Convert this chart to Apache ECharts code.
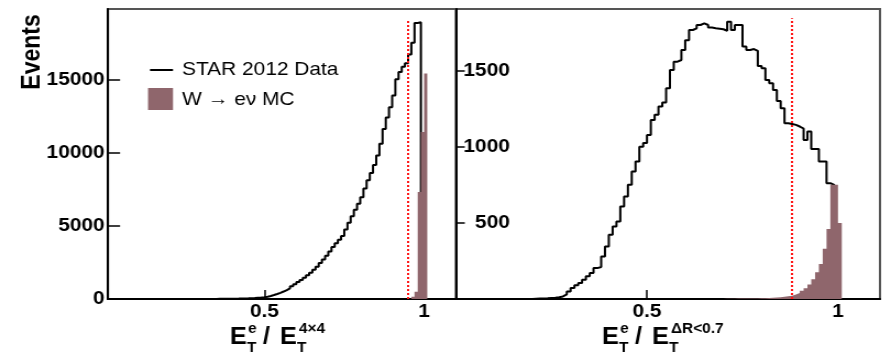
<!DOCTYPE html>
<html>
<head>
<meta charset="utf-8">
<script src="https://cdn.jsdelivr.net/npm/echarts@6/dist/echarts.min.js"></script>
<style>
  html, body { margin: 0; padding: 0; background: #fff; overflow: hidden; }
  /* the reference is stretched horizontally by ~10%, so we draw narrower and stretch */
  #main { width: 809px; height: 357px; transform: scaleX(1.1); transform-origin: 0 0; }
</style>
</head>
<body>
<div id="main"></div>
<script>
const binWidth = 0.01;

// left panel: E_T^e / E_T^{4x4}
const leftDataStart = 0.30;
const leftData = [
  3, 4, 5, 6, 8, 10, 12, 14, 17, 20,
  24, 28, 33, 40, 48, 58, 70, 85, 100, 125,
  160, 210, 270, 340, 420, 510, 610, 730, 870, 1010,
  1160, 1300, 1450, 1620, 1800, 2000, 2200, 2450, 2700, 2950,
  3250, 3550, 3800, 4050, 4300, 4750, 5200, 5650, 6100, 6500,
  6950, 7550, 8100, 8600, 9150, 9800, 10600, 11600, 12400, 13100,
  13900, 15000, 15500, 15850, 16100, 16700, 17500, 18850, 18900
];
const leftMcStart = 0.96;
const leftMc = [150, 500, 7300, 11400, 15400];
const leftCut = 0.95;
const leftCutTop = 19100;

// right panel: E_T^e / E_T^{dR<0.7}
const rightDataStart = 0.20;
const rightData = [
  2, 3, 4, 5, 7, 9, 12, 17, 30, 50,
  72, 90, 105, 127, 150, 171, 203, 210, 280, 345,
  422, 476, 509, 608, 673, 750, 837, 903, 1000, 1024,
  1078, 1176, 1210, 1264, 1290, 1384, 1505, 1559, 1570, 1636,
  1700, 1767, 1778, 1800, 1811, 1800, 1783, 1778, 1775, 1772,
  1762, 1821, 1767, 1800, 1800, 1658, 1636, 1642, 1630, 1531,
  1516, 1439, 1417, 1373, 1300, 1253, 1155, 1150, 1144, 1133,
  1120, 1045, 1100, 985, 985, 903, 903, 761, 750
];
const rightMcStart = 0.70;
const rightMc = [
  2, 2, 2, 3, 3, 3, 4, 4, 4, 5,
  5, 6, 8, 10, 12, 15, 18, 22, 30, 40,
  55, 70, 95, 130, 175, 230, 330, 460, 750, 750,
  500
];
const rightCut = 0.88;
const rightCutTop = 1844;

const xTicks = [0.5, 1];
const leftYTicks = [0, 5000, 10000, 15000];
const rightYTicks = [500, 1000, 1500];

const mcColor = '#8f666c';
const SX = 1.1; // horizontal stretch applied by css
const px = (x) => x / SX;

// histogram outline points for a stepped line
function histPoints(start, values) {
  const pts = [[start, 0]];
  values.forEach((v, i) => pts.push([+(start + i * binWidth).toFixed(3), v]));
  pts.push([+(start + values.length * binWidth).toFixed(3), 0]);
  return pts;
}

const font = 'Liberation Sans, Arial, Helvetica, sans-serif';
const labelStyle = { color: '#000', fontFamily: font, fontWeight: 'bold', fontSize: 19, formatter: (v) => String(v) };

function xAxisFor(gridIndex, min, max) {
  return {
    gridIndex, type: 'value', min, max,
    axisLine: { lineStyle: { color: '#000', width: 2 } },
    axisTick: { inside: true, length: 9, customValues: xTicks, lineStyle: { color: '#000', width: 1.5 } },
    axisLabel: Object.assign({ customValues: xTicks, margin: 3 }, labelStyle),
    splitLine: { show: false }
  };
}

function cutLine(x, top) {
  return {
    silent: true,
    symbol: ['none', 'none'],
    label: { show: false },
    lineStyle: { color: '#ff1a1a', type: [2, 2], width: 2 },
    data: [[{ coord: [x, 0] }, { coord: [x, top] }]]
  };
}

// text pieces for E_T^e / E_T^{...}
function ratioTitle(x0, sup2) {
  const t = (text, x, y, size) => ({
    type: 'text', x: px(x), y,
    style: { text, fill: '#000', font: 'bold ' + size + 'px ' + font, textAlign: 'left', textVerticalAlign: 'middle' }
  });
  return [
    t('E', x0, 338, 23),
    t('e', x0 + 18, 329, 14),
    t('T', x0 + 17, 348, 14),
    t('/', x0 + 33, 338, 23),
    t('E', x0 + 50, 338, 23),
    t('T', x0 + 67, 348, 14),
    t(sup2, x0 + 69, 329, 14)
  ];
}

const myChart = echarts.init(document.getElementById('main'), null, { renderer: 'canvas', width: 809, height: 357 });

const option = {
  animation: false,
  backgroundColor: '#fff',
  grid: [
    { left: px(108), top: 9, width: px(348), height: 290, show: true, borderColor: '#555', borderWidth: 2 },
    { left: px(456), top: 9, width: px(424), height: 290, show: true, borderColor: '#555', borderWidth: 2 }
  ],
  xAxis: [xAxisFor(0, 0.01, 1.1), xAxisFor(1, 0, 1.11)],
  yAxis: [
    {
      gridIndex: 0, type: 'value', min: 0, max: 19800,
      axisLine: { show: true, lineStyle: { color: '#000', width: 2 } },
      axisTick: { inside: true, length: 11, customValues: leftYTicks, lineStyle: { color: '#000', width: 1.5 } },
      axisLabel: Object.assign({ customValues: leftYTicks, margin: 3 }, labelStyle),
      splitLine: { show: false }
    },
    {
      gridIndex: 1, type: 'value', min: 0, max: 1905,
      axisLine: { show: true, lineStyle: { color: '#000', width: 2 } },
      axisTick: { inside: true, length: 8, customValues: rightYTicks, lineStyle: { color: '#000', width: 1.5 } },
      axisLabel: Object.assign({ customValues: rightYTicks, inside: true, align: 'right', margin: 49 }, labelStyle),
      splitLine: { show: false }
    }
  ],
  series: [
    {
      type: 'line', xAxisIndex: 0, yAxisIndex: 0, step: 'end', showSymbol: false, z: 2,
      lineStyle: { color: '#000', width: 2 }, data: histPoints(leftDataStart, leftData)
    },
    {
      type: 'line', xAxisIndex: 0, yAxisIndex: 0, step: 'end', showSymbol: false, z: 3,
      lineStyle: { width: 0 }, areaStyle: { color: mcColor, opacity: 1 },
      data: histPoints(leftMcStart, leftMc), markLine: cutLine(leftCut, leftCutTop)
    },
    {
      type: 'line', xAxisIndex: 1, yAxisIndex: 1, step: 'end', showSymbol: false, z: 2,
      lineStyle: { color: '#000', width: 2 }, data: histPoints(rightDataStart, rightData)
    },
    {
      type: 'line', xAxisIndex: 1, yAxisIndex: 1, step: 'end', showSymbol: false, z: 3,
      lineStyle: { width: 0 }, areaStyle: { color: mcColor, opacity: 1 },
      data: histPoints(rightMcStart, rightMc), markLine: cutLine(rightCut, rightCutTop)
    }
  ],
  graphic: [
    // y title
    {
      type: 'text', x: px(33), y: 52, rotation: Math.PI / 2,
      style: { text: 'Events', fill: '#000', font: 'bold 23px ' + font, textAlign: 'center', textVerticalAlign: 'middle' }
    },
    // legend
    { type: 'line', shape: { x1: px(150), y1: 70, x2: px(173), y2: 70 }, style: { stroke: '#000', lineWidth: 2 } },
    { type: 'text', x: px(182), y: 70, style: { text: 'STAR 2012 Data', fill: '#000', font: '19px ' + font, textVerticalAlign: 'middle' } },
    { type: 'rect', shape: { x: px(148), y: 88, width: px(25), height: 22 }, style: { fill: mcColor } },
    { type: 'text', x: px(182), y: 100, style: { text: 'W \u2192 e\u03bd MC', fill: '#000', font: '19px ' + font, textVerticalAlign: 'middle' } }
  ].concat(ratioTitle(230, '4\u00d74'), ratioTitle(602, '\u0394R<0.7'))
};

myChart.setOption(option);
</script>
</body>
</html>
